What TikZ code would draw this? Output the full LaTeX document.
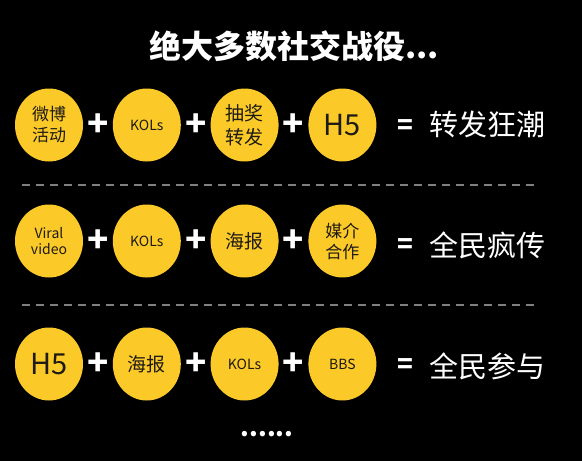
\documentclass[tikz,border=0pt]{standalone}
\usepackage{fontspec}
\setmainfont{Noto Sans CJK SC}
\usetikzlibrary{positioning, shapes.geometric}
\definecolor{coinyellow}{RGB}{252,202,40}
\definecolor{coinink}{RGB}{30,26,20}
\definecolor{sepgray}{RGB}{128,128,128}

\begin{document}
\begin{tikzpicture}[x=1pt, y=1pt,
  coin/.style={ellipse, fill=coinyellow, text=coinink, align=center, inner sep=0pt,
               minimum width=68pt, minimum height=73pt},
  plus/.style={text=white, inner sep=0pt, minimum width=29pt,
               font=\fontsize{35}{35}\bfseries\selectfont},
  eq/.style={text=white, inner sep=0pt, font=\fontsize{26}{26}\bfseries\selectfont},
  result/.style={text=white, anchor=west, inner sep=0pt, font=\fontsize{29}{29}\selectfont},
  sep/.style={draw=sepgray, line width=2pt, dash pattern=on 8pt off 6pt},
  small/.style={font=\fontsize{14}{16}\selectfont},
  mid/.style={font=\fontsize{17}{21}\selectfont},
  big/.style={font=\fontsize{19}{24}\selectfont},
  huge/.style={font=\fontsize{29}{29}\selectfont}]

% background and frame
\fill[black] (0,0) rectangle (582,-461);
\useasboundingbox (0,0) rectangle (582,-461);

% --- title
\node[text=white, font=\fontsize{32}{32}\bfseries\selectfont] (title) at (294,-46) {绝大多数社交战役...};

% --- row 1: 转发狂潮
\node[coin, mid] (a1) at (49,-125) {微博\\活动};
\node[plus, right=0pt of a1] (pa1) {+};
\node[coin, small, right=0pt of pa1] (a2) {KOLs};
\node[plus, right=0pt of a2] (pa2) {+};
\node[coin, big, right=0pt of pa2] (a3) {抽奖\\转发};
\node[plus, right=0pt of a3] (pa3) {+};
\node[coin, huge, right=0pt of pa3] (a4) {H5};
\node[eq] (eqa) at (405,-127) {=};
\node[result] (resa) at (429,-124) {转发狂潮};

\coordinate (s1l) at (22,-185);
\coordinate (s1r) at (536,-185);
\draw[sep] (s1l) -- (s1r);

% --- row 2: 全民疯传
\node[coin, small] (b1) at (49,-241) {Viral\\video};
\node[plus, right=0pt of b1] (pb1) {+};
\node[coin, small, right=0pt of pb1] (b2) {KOLs};
\node[plus, right=0pt of b2] (pb2) {+};
\node[coin, big, right=0pt of pb2] (b3) {海报};
\node[plus, right=0pt of b3] (pb3) {+};
\node[coin, mid, right=0pt of pb3] (b4) {媒介\\合作};
\node[eq] (eqb) at (405,-246) {=};
\node[result] (resb) at (429,-245) {全民疯传};

\coordinate (s2l) at (22,-305);
\coordinate (s2r) at (536,-305);
\draw[sep] (s2l) -- (s2r);

% --- row 3: 全民参与
\node[coin, huge] (c1) at (49,-364) {H5};
\node[plus, right=0pt of c1] (pc1) {+};
\node[coin, big, right=0pt of pc1] (c2) {海报};
\node[plus, right=0pt of c2] (pc2) {+};
\node[coin, small, right=0pt of pc2] (c3) {KOLs};
\node[plus, right=0pt of c3] (pc3) {+};
\node[coin, small, right=0pt of pc3] (c4) {BBS};
\node[eq] (eqc) at (405,-366) {=};
\node[result] (resc) at (429,-366) {全民参与};

% --- trailing dots
\node[text=white, font=\fontsize{25}{25}\bfseries\selectfont] (more) at (267,-434) {......};
\end{tikzpicture}
\end{document}
